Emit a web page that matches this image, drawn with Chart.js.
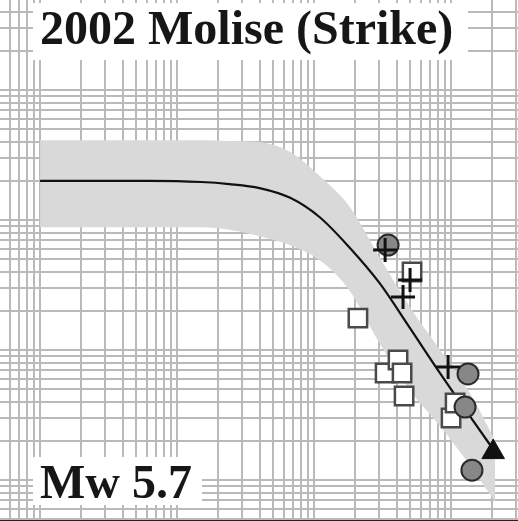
<!DOCTYPE html>
<html>
<head>
<meta charset="utf-8">
<script src="https://cdn.jsdelivr.net/npm/chart.js@4.4.1/dist/chart.umd.min.js"></script>
<style>
    html, body { margin: 0; padding: 0; background: #fff; }
    #containerGrafico { position: relative; width: 518px; height: 521px; overflow: hidden; }
    .caixaTexto {
        position: absolute;
        background: #fff;
        font-family: "Liberation Serif", "Times New Roman", serif;
        font-weight: bold;
        font-size: 48px;
        color: #161616;
        white-space: nowrap;
        padding: 0 7px;
    }
    #titulo { left: 33px; top: 3px; width: 421px; height: 57px; line-height: 50px; }
    #magnitude { left: 33px; top: 457px; width: 155px; height: 48px; line-height: 49px; }
</style>
</head>
<body>
<div id="containerGrafico">
    <canvas id="grafico" width="518" height="521"></canvas>
    <div id="titulo" class="caixaTexto">2002 Molise (Strike)</div>
    <div id="magnitude" class="caixaTexto">Mw 5.7</div>
</div>
<script>
// eixos (log-log)
const xMin = 0.0051
const xMax = 30.8
const yMin = 0.000484
const yMax = 4.92
const xDecadas = [0.001, 0.01, 0.1, 1, 10]
const yDecadas = [0.0001, 0.001, 0.01, 0.1, 1]

// faixa cinza e curva media
const faixaX = [0.01, 0.027, 0.063, 0.15, 0.24, 0.4, 0.67, 1.1, 1.8, 3.0, 5.0, 8.3, 14, 21]
const faixaSup = [0.41, 0.41, 0.41, 0.41, 0.405, 0.398, 0.334, 0.218, 0.128, 0.052, 0.0214, 0.01, 0.0045, 0.002]
const faixaInf = [0.088, 0.088, 0.088, 0.088, 0.084, 0.075, 0.064, 0.049, 0.029, 0.0113, 0.0049, 0.0026, 0.00126, 0.00068]
const curvaY = [0.2, 0.2, 0.2, 0.196, 0.189, 0.176, 0.148, 0.105, 0.062, 0.0328, 0.0148, 0.00665, 0.003, 0.00164]

// estacoes
const circulosX = [3.47, 13.3, 12.65, 14.2]
const circulosY = [0.0642, 0.00654, 0.00364, 0.00119]
const quadradosX = [2.09, 3.3, 4.1, 4.39, 4.54, 10.0, 10.7, 5.19]
const quadradosY = [0.0176, 0.00665, 0.00838, 0.00665, 0.00443, 0.003, 0.00391, 0.0398]
const cruzesX = [3.3, 5.02, 4.46, 9.51]
const cruzesY = [0.0588, 0.0345, 0.0256, 0.0074]
const triangulosX = [20.3]
const triangulosY = [0.00164]

function pontos(xs, ys){
    return xs.map(function(x, i){
        return { x: x, y: ys[i] }
    })
}

function ticksLog(decadas, min, max){
    var lista = []
    decadas.forEach(d => {
        for (let m = 1; m <= 9; m++) {
            var v = d * m
            if (v >= min && v <= max) lista.push({ value: v })
        }
    })
    return lista
}

function montarGrafico(){
    var ctx = document.getElementById('grafico')

    var grade = { color: '#bababa', lineWidth: 2, drawTicks: false }

    new Chart(ctx, {
        type: 'line',
        data: {
            datasets: [
                {
                    data: pontos(faixaX, faixaSup),
                    borderWidth: 0,
                    pointRadius: 0,
                    fill: '+1',
                    backgroundColor: '#d9d9d9',
                    cubicInterpolationMode: 'monotone',
                    order: 10
                },
                {
                    data: pontos(faixaX, faixaInf),
                    borderWidth: 0,
                    pointRadius: 0,
                    fill: false,
                    cubicInterpolationMode: 'monotone',
                    order: 11
                },
                {
                    data: pontos(faixaX, curvaY),
                    borderColor: '#111',
                    borderWidth: 2.2,
                    pointRadius: 0,
                    fill: false,
                    cubicInterpolationMode: 'monotone',
                    order: 5
                },
                {
                    data: pontos(quadradosX, quadradosY),
                    showLine: false,
                    pointStyle: 'rect',
                    pointRadius: 13,
                    backgroundColor: '#fff',
                    borderColor: '#4a4a4a',
                    borderWidth: 2.5,
                    order: 4
                },
                {
                    data: pontos(circulosX, circulosY),
                    showLine: false,
                    pointStyle: 'circle',
                    pointRadius: 10.5,
                    backgroundColor: '#878787',
                    borderColor: '#2a2a2a',
                    borderWidth: 2,
                    order: 3
                },
                {
                    data: pontos(cruzesX, cruzesY),
                    showLine: false,
                    pointStyle: 'cross',
                    pointRadius: 12,
                    borderColor: '#111',
                    borderWidth: 3,
                    order: 2
                },
                {
                    data: pontos(triangulosX, triangulosY),
                    showLine: false,
                    pointStyle: 'triangle',
                    pointRadius: 13,
                    backgroundColor: '#111',
                    borderColor: '#111',
                    borderWidth: 1,
                    order: 1
                }
            ]
        },
        options: {
            responsive: false,
            animation: false,
            layout: { padding: 0, autoPadding: false },
            plugins: {
                legend: { display: false },
                tooltip: { enabled: false }
            },
            scales: {
                x: {
                    type: 'logarithmic',
                    min: xMin,
                    max: xMax,
                    grid: grade,
                    border: { display: true, color: '#222', width: 2 },
                    ticks: { display: false, autoSkip: false },
                    afterBuildTicks: function(scale){
                        scale.ticks = ticksLog(xDecadas, xMin, xMax)
                    }
                },
                y: {
                    type: 'logarithmic',
                    min: yMin,
                    max: yMax,
                    grid: grade,
                    border: { display: false },
                    ticks: { display: false, autoSkip: false },
                    afterBuildTicks: function(scale){
                        scale.ticks = ticksLog(yDecadas, yMin, yMax)
                    }
                }
            }
        }
    });
}

montarGrafico()
</script>
</body>
</html>
